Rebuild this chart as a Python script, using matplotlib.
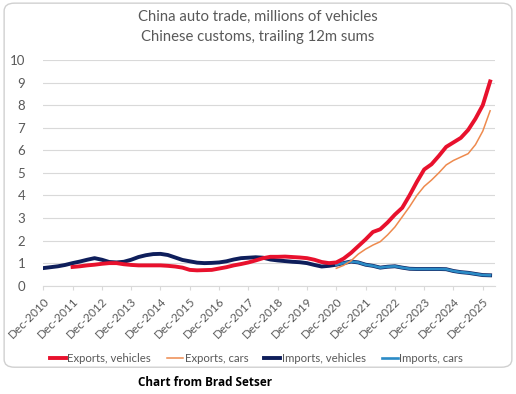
import matplotlib.pyplot as plt
from matplotlib.patches import FancyBboxPatch

# months since Dec-2010, every quarter
imp_months = [0, 3, 6, 9, 12, 15, 18, 21, 24, 27, 30, 33, 36, 39, 42, 45, 48, 51, 54, 57,
              60, 63, 66, 69, 72, 75, 78, 81, 84, 87, 90, 93, 96, 99, 102, 105, 108, 111,
              114, 117, 120, 123, 126, 129, 132, 135, 138, 141, 144, 147, 150, 153, 156,
              159, 162, 165, 168, 171, 174, 177, 180, 183]
imports_vehicles = [0.78, 0.82, 0.86, 0.92, 1.00, 1.07, 1.15, 1.22, 1.15, 1.05, 1.03, 1.06,
                    1.15, 1.27, 1.35, 1.40, 1.41, 1.36, 1.25, 1.14, 1.08, 1.02, 1.00, 1.01,
                    1.03, 1.08, 1.16, 1.22, 1.24, 1.26, 1.24, 1.16, 1.12, 1.09, 1.06, 1.04,
                    1.00, 0.92, 0.85, 0.88, 0.93, 1.00, 1.07, 1.03, 0.93, 0.88, 0.80, 0.84,
                    0.86, 0.80, 0.75, 0.74, 0.74, 0.74, 0.74, 0.73, 0.65, 0.60, 0.57, 0.52,
                    0.47, 0.46]

exp_months = [12, 15, 18, 21, 24, 27, 30, 33, 36, 39, 42, 45, 48, 51, 54, 57, 60, 63, 66,
              69, 72, 75, 78, 81, 84, 87, 90, 93, 96, 99, 102, 105, 108, 111, 114, 117,
              120, 123, 126, 129, 132, 135, 138, 141, 144, 147, 150, 153, 156, 159, 162,
              165, 168, 171, 174, 177, 180, 183]
exports_vehicles = [0.83, 0.86, 0.90, 0.93, 0.97, 1.00, 1.00, 0.95, 0.92, 0.90, 0.90, 0.90,
                    0.90, 0.88, 0.85, 0.80, 0.70, 0.68, 0.69, 0.70, 0.76, 0.82, 0.90, 0.96,
                    1.03, 1.12, 1.22, 1.28, 1.28, 1.29, 1.27, 1.25, 1.22, 1.15, 1.05, 1.00,
                    1.03, 1.20, 1.45, 1.75, 2.05, 2.38, 2.50, 2.80, 3.15, 3.45, 4.00, 4.60,
                    5.15, 5.38, 5.75, 6.15, 6.35, 6.55, 6.90, 7.40, 8.00, 9.05]

car_months = [120, 123, 126, 129, 132, 135, 138, 141, 144, 147, 150, 153, 156, 159, 162,
              165, 168, 171, 174, 177, 180, 183]
exports_cars = [0.77, 0.90, 1.10, 1.40, 1.62, 1.80, 1.95, 2.25, 2.60, 3.05, 3.50, 4.00,
                4.40, 4.68, 5.00, 5.35, 5.55, 5.70, 5.85, 6.25, 6.85, 7.75]
imports_cars = [0.93, 1.00, 1.07, 1.03, 0.93, 0.88, 0.80, 0.84, 0.86, 0.80, 0.75, 0.74,
                0.74, 0.74, 0.74, 0.73, 0.65, 0.60, 0.57, 0.52, 0.47, 0.46]

tick_months = list(range(0, 181, 12))
tick_labels = [f"Dec-{y}" for y in range(2010, 2026)]

gray = "#595959"
plt.rcParams['font.family'] = ['Lato', 'DejaVu Sans']

fig = plt.figure(figsize=(5.16, 3.94), dpi=100)
fig.patches.append(FancyBboxPatch((0.008, 0.068), 0.984, 0.924,
                                  boxstyle="round,pad=0,rounding_size=0.02",
                                  transform=fig.transFigure, facecolor="white",
                                  edgecolor="#D0D0D0", linewidth=1.0, zorder=-5))

ax = fig.add_axes([0.0839, 0.2749, 0.8754, 0.5728])
ax.set_facecolor("none")

ax.plot(imp_months, imports_vehicles, color="#0E1E5B", lw=2.8, label="Imports, vehicles", zorder=3)
ax.plot(car_months, imports_cars, color="#2B8BC6", lw=1.9, label="Imports, cars", zorder=4)
ax.plot(exp_months, exports_vehicles, color="#E8112D", lw=2.8, label="Exports, vehicles", zorder=5)
ax.plot(car_months, exports_cars, color="#EE8A4E", lw=1.1, label="Exports, cars", zorder=6)

ax.set_xlim(0, 185)
ax.set_ylim(0, 10)
ax.set_yticks(range(0, 11))
ax.grid(axis="y", color="#D9D9D9", lw=0.8)
ax.set_axisbelow(True)
for s in ["top", "right", "left"]:
    ax.spines[s].set_visible(False)
ax.spines["bottom"].set_color("#D9D9D9")
ax.tick_params(axis="y", length=0, labelsize=9.5, labelcolor=gray, pad=13)
ax.set_xticks(tick_months)
ax.set_xticklabels(tick_labels, rotation=45, ha="right", rotation_mode="anchor")
ax.tick_params(axis="x", length=3, color="#D9D9D9", labelsize=8.5, labelcolor=gray, pad=4)

fig.text(0.5, 0.956, "China auto trade, millions of vehicles", ha="center", va="center",
         fontsize=10.7, color=gray)
fig.text(0.5, 0.906, "Chinese customs, trailing 12m sums", ha="center", va="center",
         fontsize=10.7, color=gray)

handles, labels = ax.get_legend_handles_labels()
order = [2, 3, 0, 1]
ax.legend([handles[i] for i in order], [labels[i] for i in order], loc="center",
          bbox_to_anchor=(0.497, 0.09), bbox_transform=fig.transFigure, ncol=4,
          frameon=False, fontsize=8.2, labelcolor=gray, handlelength=1.4,
          handletextpad=0.15, columnspacing=1.4)

fig.text(0.397, 0.028, "Chart from Brad Setser", ha="center", va="center",
         fontsize=8.5, fontweight="bold", color="black", family=["Open Sans", "DejaVu Sans"])

fig.savefig("out.png", dpi=100)
